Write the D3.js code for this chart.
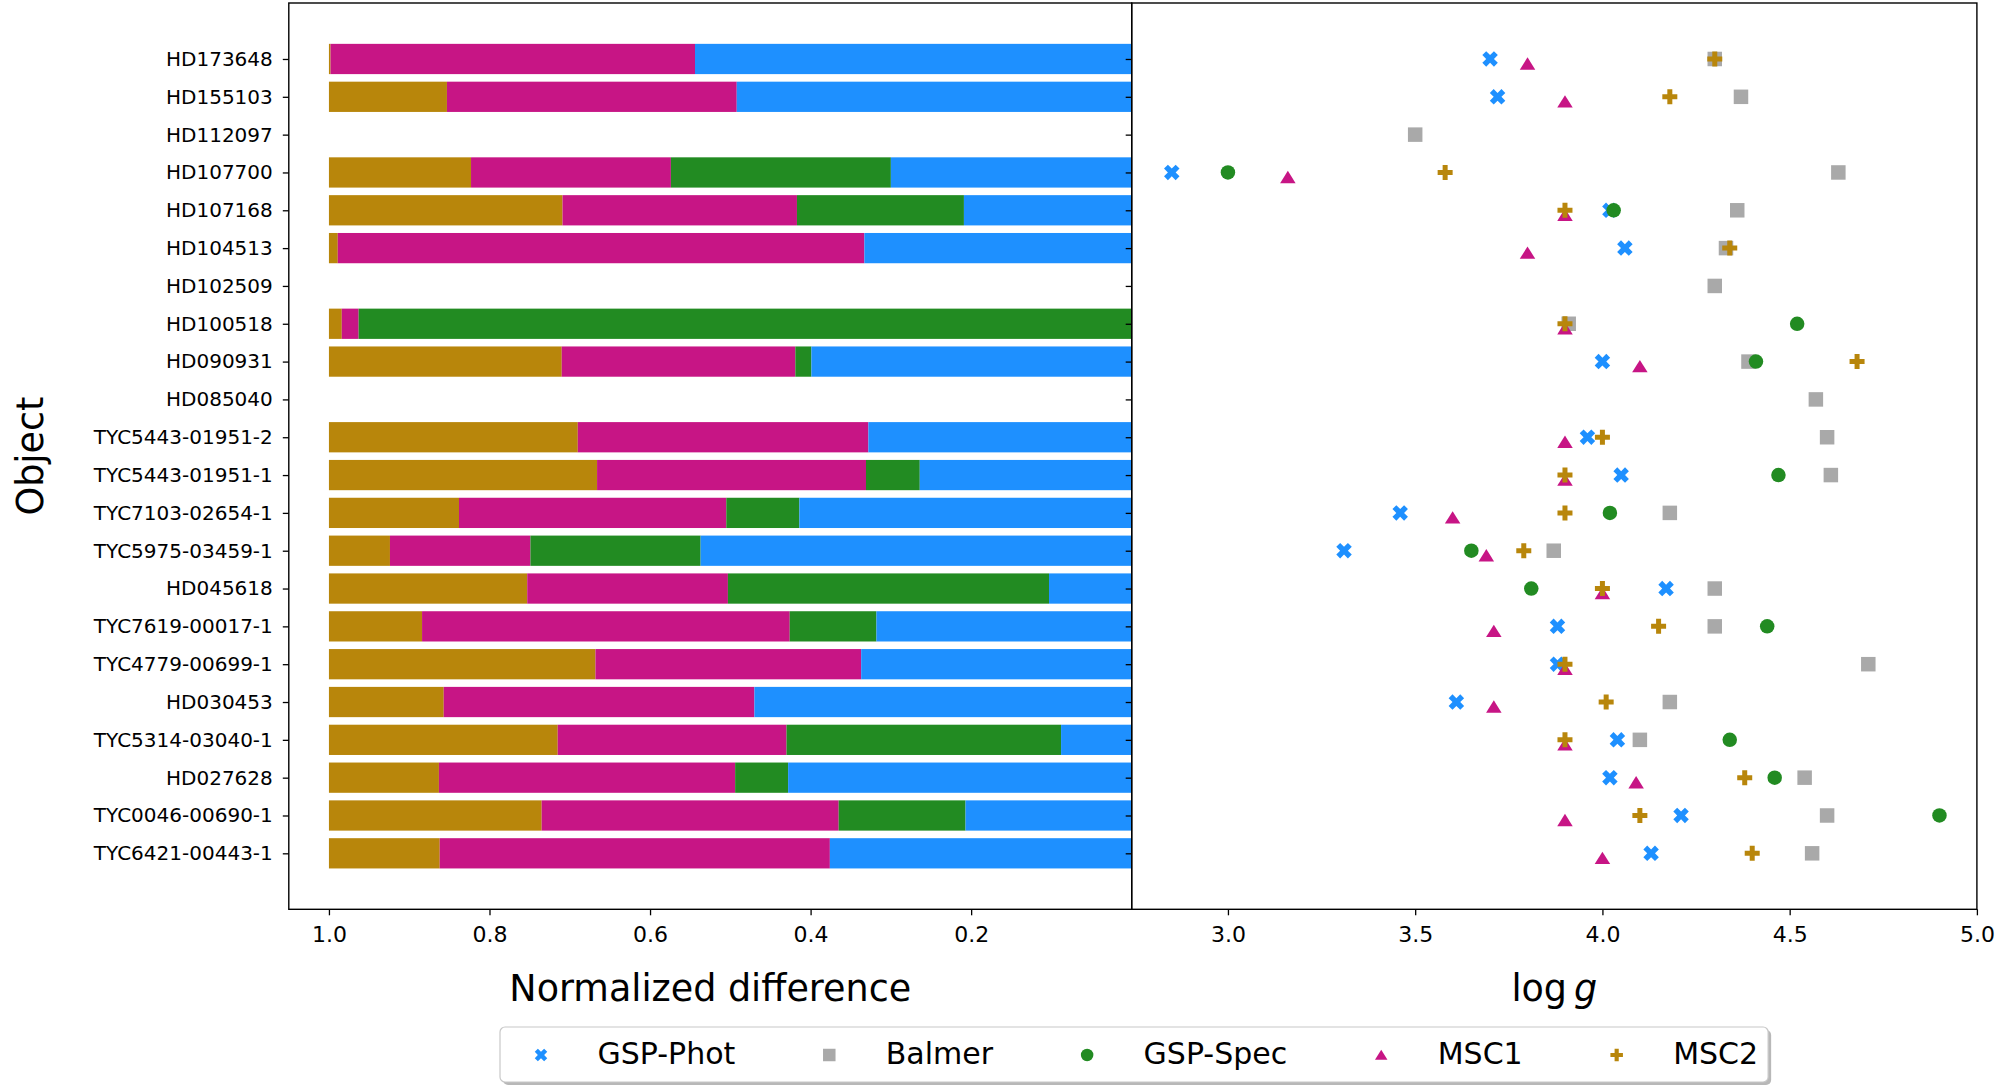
<!DOCTYPE html>
<html>
<head>
<meta charset="utf-8">
<script src="https://cdn.jsdelivr.net/npm/d3@7"></script>
<style>
  html, body { margin: 0; padding: 0; background: #fff; }
  svg { display: block; }
  text { font-family: "DejaVu Sans", sans-serif; fill: #000; }
</style>
</head>
<body>
<svg id="chart" width="2006" height="1085"></svg>
<script>
// Objects, listed top to bottom
const objects = [
  "HD173648", "HD155103", "HD112097", "HD107700", "HD107168", "HD104513",
  "HD102509", "HD100518", "HD090931", "HD085040", "TYC5443-01951-2",
  "TYC5443-01951-1", "TYC7103-02654-1", "TYC5975-03459-1", "HD045618",
  "TYC7619-00017-1", "TYC4779-00699-1", "HD030453", "TYC5314-03040-1",
  "HD027628", "TYC0046-00690-1", "TYC6421-00443-1"
];

// Normalized difference of each method (stacked from 1.0 towards 0.0)
const msc2Diff = [0.002, 0.147, 0, 0.177, 0.291, 0.011, 0, 0.016, 0.290, 0, 0.310,
                  0.334, 0.162, 0.076, 0.247, 0.116, 0.332, 0.143, 0.285, 0.137, 0.265, 0.138];
const msc1Diff = [0.454, 0.361, 0, 0.249, 0.292, 0.656, 0, 0.021, 0.291, 0, 0.362,
                  0.335, 0.333, 0.175, 0.250, 0.458, 0.331, 0.387, 0.285, 0.369, 0.370, 0.486];
const specDiff = [0, 0, 0, 0.274, 0.208, 0, 0, 0.963, 0.020, 0, 0,
                  0.067, 0.091, 0.212, 0.400, 0.108, 0, 0, 0.342, 0.066, 0.158, 0];
const photDiff = [0.544, 0.492, 0, 0.300, 0.209, 0.333, 0, 0, 0.399, 0, 0.328,
                  0.264, 0.414, 0.537, 0.103, 0.318, 0.337, 0.470, 0.088, 0.428, 0.207, 0.376];

// log g estimates per method (null = not available)
const loggPhot   = [3.70, 3.72, null, 2.85, 4.02, 4.06, null, null, 4.00, null, 3.96,
                    4.05, 3.46, 3.31, 4.17, 3.88, 3.88, 3.61, 4.04, 4.02, 4.21, 4.13];
const loggBalmer = [4.30, 4.37, 3.50, 4.63, 4.36, 4.33, 4.30, 3.91, 4.39, 4.57, 4.60,
                    4.61, 4.18, 3.87, 4.30, 4.30, 4.71, 4.18, 4.10, 4.54, 4.60, 4.56];
const loggSpec   = [null, null, null, 3.00, 4.03, null, null, 4.52, 4.41, null, null,
                    4.47, 4.02, 3.65, 3.81, 4.44, null, null, 4.34, 4.46, 4.90, null];
const loggMsc1   = [3.80, 3.90, null, 3.16, 3.90, 3.80, null, 3.90, 4.10, null, 3.90,
                    3.90, 3.60, 3.69, 4.00, 3.71, 3.90, 3.71, 3.90, 4.09, 3.90, 4.00];
const loggMsc2   = [4.30, 4.18, null, 3.58, 3.90, 4.34, null, 3.90, 4.68, null, 4.00,
                    3.90, 3.90, 3.79, 4.00, 4.15, 3.90, 4.01, 3.90, 4.38, 4.10, 4.40];

const diffTicks = [1.0, 0.8, 0.6, 0.4, 0.2];
const loggTicks = [3.0, 3.5, 4.0, 4.5, 5.0];

const colors = {
  phot: "#1E90FF", balmer: "#A9A9A9", spec: "#228B22", msc1: "#C71585", msc2: "#B8860B"
};

// ---- marker shapes ----
function xMarker(s) {
  const k = s / 4;
  const pts = [[-1,-2],[0,-1],[1,-2],[2,-1],[1,0],[2,1],[1,2],[0,1],[-1,2],[-2,1],[-1,0],[-2,-1]];
  return "M" + pts.map(p => (p[0]*k).toFixed(2) + "," + (p[1]*k).toFixed(2)).join("L") + "Z";
}
function plusMarker(s) {
  const k = s / 6;
  const pts = [[-1,-3],[1,-3],[1,-1],[3,-1],[3,1],[1,1],[1,3],[-1,3],[-1,1],[-3,1],[-3,-1],[-1,-1]];
  return "M" + pts.map(p => (p[0]*k).toFixed(2) + "," + (p[1]*k).toFixed(2)).join("L") + "Z";
}
function squareMarker(s) {
  const h = s / 2;
  return `M${-h},${-h}L${h},${-h}L${h},${h}L${-h},${h}Z`;
}
function triMarker(s) {
  const h = s / 2;
  return `M0,${-0.85*h}L${h},${0.75*h}L${-h},${0.75*h}Z`;
}
function circleMarker(s) {
  const r = s / 2;
  return `M${r},0A${r},${r} 0 1,1 ${-r},0A${r},${r} 0 1,1 ${r},0Z`;
}

const svg = d3.select("#chart");

// ---- layout ----
const plotTop = 3, plotBottom = 909.3;
const leftX0 = 288.8, split = 1131.7, rightX1 = 1976.9;

const xDiff = d3.scaleLinear().domain([1.05, 0.0]).range([leftX0, split]);
const xLogg = d3.scaleLinear().domain([2.743, 5.0]).range([split, rightX1]);
const y = d3.scaleLinear().domain([-1.48, objects.length - 1 + 1.48]).range([plotTop, plotBottom]);
const rowStep = y(1) - y(0);

// ---- stacked bars ----
const seriesBars = [
  { key: "msc2", vals: msc2Diff },
  { key: "msc1", vals: msc1Diff },
  { key: "spec", vals: specDiff },
  { key: "phot", vals: photDiff }
];
const barRows = objects.map((name, i) => {
  let start = 1.0;
  return seriesBars.map(s => {
    const seg = { key: s.key, i, from: start, to: start - s.vals[i] };
    start = seg.to;
    return seg;
  }).filter(d => d.from - d.to > 0);
});

svg.append("clipPath").attr("id", "clipLeft")
  .append("rect").attr("x", leftX0).attr("y", plotTop)
  .attr("width", split - leftX0).attr("height", plotBottom - plotTop);

svg.append("g").attr("clip-path", "url(#clipLeft)")
  .selectAll("rect")
  .data(barRows.flat())
  .join("rect")
  .attr("x", d => xDiff(d.from))
  .attr("width", d => xDiff(d.to) - xDiff(d.from))
  .attr("y", d => y(d.i) - 0.4 * rowStep)
  .attr("height", 0.8 * rowStep)
  .attr("fill", d => colors[d.key]);

// ---- scatter of log g ----
const scatterSeries = [
  { key: "phot", vals: loggPhot, shape: xMarker, size: 15.5, dy: 0 },
  { key: "balmer", vals: loggBalmer, shape: squareMarker, size: 14.5, dy: 0 },
  { key: "spec", vals: loggSpec, shape: circleMarker, size: 14.5, dy: 0 },
  { key: "msc1", vals: loggMsc1, shape: triMarker, size: 15.5, dy: 0.13 },
  { key: "msc2", vals: loggMsc2, shape: plusMarker, size: 15, dy: 0 }
];
scatterSeries.forEach(s => {
  const pts = s.vals.map((v, i) => ({ v, i })).filter(d => d.v !== null);
  svg.append("g").selectAll("path")
    .data(pts)
    .join("path")
    .attr("d", s.shape(s.size))
    .attr("transform", d => `translate(${xLogg(d.v)},${y(d.i + s.dy)})`)
    .attr("fill", colors[s.key]);
});

// ---- axes ----
function styleAxis(g, fontSize) {
  g.select(".domain").remove();
  g.selectAll(".tick line").attr("stroke", "#000").attr("stroke-width", 1.3);
  g.selectAll(".tick text").attr("font-size", fontSize).attr("font-family", "DejaVu Sans").attr("fill", "#000");
}

svg.append("g")
  .attr("transform", `translate(${leftX0},0)`)
  .call(d3.axisLeft(y).tickValues(d3.range(objects.length)).tickFormat(i => objects[i])
        .tickSize(6).tickPadding(10))
  .call(g => styleAxis(g, 20));

svg.append("g")
  .attr("transform", `translate(${split},0)`)
  .call(d3.axisLeft(y).tickValues(d3.range(objects.length)).tickFormat("").tickSize(6))
  .call(g => styleAxis(g, 20));

svg.append("g")
  .attr("transform", `translate(0,${plotBottom})`)
  .call(d3.axisBottom(xDiff).tickValues(diffTicks).tickFormat(d3.format(".1f"))
        .tickSize(6).tickPadding(11.4))
  .call(g => styleAxis(g, 22));

svg.append("g")
  .attr("transform", `translate(0,${plotBottom})`)
  .call(d3.axisBottom(xLogg).tickValues(loggTicks).tickFormat(d3.format(".1f"))
        .tickSize(6).tickPadding(11.4))
  .call(g => styleAxis(g, 22));

// frames of both panels
[[leftX0, split], [split, rightX1]].forEach(([a, b]) => {
  svg.append("rect")
    .attr("x", a).attr("y", plotTop).attr("width", b - a).attr("height", plotBottom - plotTop)
    .attr("fill", "none").attr("stroke", "#000").attr("stroke-width", 1.4);
});

// ---- axis titles ----
svg.append("text")
  .attr("x", (leftX0 + split) / 2).attr("y", 1000.5)
  .attr("text-anchor", "middle").attr("font-size", 36.5)
  .text("Normalized difference");

const lg = svg.append("text")
  .attr("x", (split + rightX1) / 2).attr("y", 1000.5)
  .attr("text-anchor", "middle").attr("font-size", 36.5);
lg.append("tspan").text("log");
lg.append("tspan").attr("dx", 7).attr("font-style", "italic").text("g");

svg.append("text")
  .attr("transform", `translate(43,${(plotTop + plotBottom) / 2}) rotate(-90)`)
  .attr("text-anchor", "middle").attr("font-size", 36.5)
  .text("Object");

// ---- legend ----
const legendItems = [
  { label: "GSP-Phot", key: "phot", shape: xMarker },
  { label: "Balmer", key: "balmer", shape: squareMarker },
  { label: "GSP-Spec", key: "spec", shape: circleMarker },
  { label: "MSC1", key: "msc1", shape: triMarker },
  { label: "MSC2", key: "msc2", shape: plusMarker }
];
const legX = 500, legY = 1027, legH = 55;
const legend = svg.append("g");
const shadow = legend.append("rect").attr("fill", "#000").attr("opacity", 0.28);
const box = legend.append("rect").attr("fill", "#fff").attr("stroke", "#c8c8c8").attr("stroke-width", 1.2);
let cx = legX + 41;
legendItems.forEach(it => {
  legend.append("path")
    .attr("d", it.shape(12.5))
    .attr("transform", `translate(${cx},${legY + 28})`)
    .attr("fill", colors[it.key]);
  const t = legend.append("text")
    .attr("x", cx + 56.5).attr("y", legY + 36.5)
    .attr("font-size", 30).text(it.label);
  const w = t.node().getComputedTextLength();
  cx = cx + 56.5 + w + 94;
});
const legW = (cx - 94 + 10) - legX;
box.attr("x", legX).attr("y", legY).attr("width", legW).attr("height", legH).attr("rx", 5);
shadow.attr("x", legX + 3).attr("y", legY + 3).attr("width", legW).attr("height", legH).attr("rx", 5);
</script>
</body>
</html>
